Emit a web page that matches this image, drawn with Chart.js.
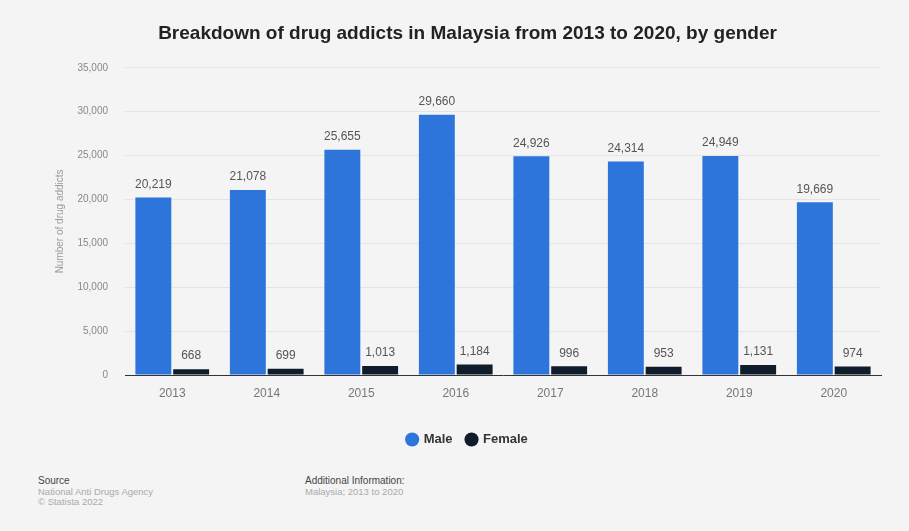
<!DOCTYPE html>
<html>
<head>
<meta charset="utf-8">
<title>Drug addicts in Malaysia by gender</title>
<script src="https://cdn.jsdelivr.net/npm/chart.js@4"></script>
<style>
    body { margin: 0; background: #f4f4f4; font-family: "Liberation Sans", Arial, sans-serif; }
    #wrap { position: absolute; left: 0; top: 0; width: 909px; height: 460px; }
    .foot { position: absolute; top: 476px; font-size: 9.5px; line-height: 10.5px; color: #aaa; }
    .foot b { font-weight: normal; color: #444; font-size: 10px; }
</style>
</head>
<body>
<div id="wrap"><canvas id="addictsChart"></canvas></div>
<div class="foot" style="left:38px"><b>Source</b><br>National Anti Drugs Agency<br>© Statista 2022</div>
<div class="foot" style="left:305px"><b>Additional Information:</b><br>Malaysia; 2013 to 2020</div>
<script>
// Years and values
const years = ['2013', '2014', '2015', '2016', '2017', '2018', '2019', '2020'];
const maleValues = [20219, 21078, 25655, 29660, 24926, 24314, 24949, 19669];
const femaleValues = [668, 699, 1013, 1184, 996, 953, 1131, 974];
const yTicks = [0, 5000, 10000, 15000, 20000, 25000, 30000, 35000];

// Draws the value above each bar
const valueLabels = {
    id: 'valueLabels',
    afterDatasetsDraw(chart) {
        const ctx = chart.ctx;
        ctx.save();
        ctx.font = '12px "Liberation Sans", Arial, sans-serif';
        ctx.fillStyle = '#555';
        ctx.textAlign = 'center';
        ctx.textBaseline = 'bottom';
        chart.data.datasets.forEach((ds, i) => {
            chart.getDatasetMeta(i).data.forEach((bar, j) => {
                ctx.fillText(ds.data[j].toLocaleString('en-US'), bar.x, bar.y - 7);
            });
        });
        ctx.restore();
    }
};

window.onload = function() {
    const ctx = document.getElementById('addictsChart').getContext('2d');
    new Chart(ctx, {
        type: 'bar',
        data: {
            labels: years,
            datasets: [
                { label: 'Male', data: maleValues, backgroundColor: '#2d74db' },
                { label: 'Female', data: femaleValues, backgroundColor: '#0e1c2c' }
            ]
        },
        options: {
            responsive: true,
            maintainAspectRatio: false,
            animation: false,
            layout: { padding: { left: 54, right: 28, top: 0, bottom: 4 } },
            datasets: { bar: { categoryPercentage: 0.8, barPercentage: 0.95 } },
            scales: {
                x: {
                    grid: { display: false },
                    border: { color: '#333', width: 1 },
                    ticks: { color: '#777', font: { size: 12 }, padding: 3 },
                    afterFit: axis => { axis.height = 44; }
                },
                y: {
                    min: 0,
                    max: 35000,
                    afterBuildTicks: axis => { axis.ticks = yTicks.map(v => ({ value: v })); },
                    afterFit: axis => { axis.width = 71; },
                    grid: { color: '#e4e4e4', drawTicks: false },
                    border: { display: false },
                    ticks: { color: '#888', font: { size: 10 }, padding: 17,
                        callback: v => v.toLocaleString('en-US') },
                    title: { display: true, text: 'Number of drug addicts', color: '#999',
                        font: { size: 10 }, padding: 0 }
                }
            },
            plugins: {
                title: {
                    display: true,
                    text: 'Breakdown of drug addicts in Malaysia from 2013 to 2020, by gender',
                    color: '#222',
                    font: { size: 19, weight: 'bold', family: '"Liberation Sans", Arial, sans-serif' },
                    padding: { top: 22, bottom: 23 }
                },
                legend: {
                    position: 'bottom',
                    labels: { usePointStyle: true, pointStyle: 'circle', boxWidth: 10, boxHeight: 10,
                        color: '#333', font: { size: 13, weight: 'bold' }, padding: 14 }
                },
                tooltip: { enabled: false }
            }
        },
        plugins: [valueLabels]
    });
};
</script>
</body>
</html>
